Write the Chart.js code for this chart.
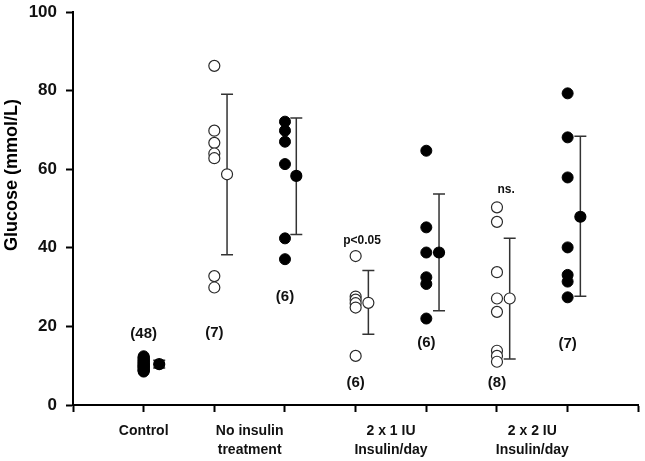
<!DOCTYPE html>
<html>
<head>
<meta charset="utf-8">
<script src="https://cdn.jsdelivr.net/npm/chart.js@4"></script>
<style>
  body { margin: 0; background: #fff; }
  #wrap { width: 645px; height: 461px; }
</style>
</head>
<body>
<div id="wrap"><canvas id="chart1"></canvas></div>
<script>
// group labels on the x axis and where they sit
const categories = ['Control', ['No insulin', 'treatment'], ['2 x 1 IU', 'Insulin/day'], ['2 x 2 IU', 'Insulin/day']];
const categoryPos = [1, 2.5, 4.5, 6.5];
const yTicks = [0, 20, 40, 60, 80, 100];

// individual animals (glucose, mmol/L)
const controlVals = [12.4, 12.1, 11.8, 11.5, 11.2, 11.0, 10.8, 10.5, 10.3, 10.0, 9.8, 9.6,
  9.3, 9.1, 8.9, 8.7, 8.5, 10.2, 11.4, 9.5, 10.7, 12.0, 8.8, 9.9];
const noInsulinOpen = [86.3, 69.8, 66.7, 64.0, 62.8, 32.8, 29.9];
const noInsulinFilled = [72.1, 69.8, 67.0, 61.3, 42.4, 37.1];
const iu1Open = [37.9, 27.6, 26.8, 25.9, 24.8, 12.5];
const iu1Filled = [64.7, 45.2, 38.8, 32.5, 30.8, 22.0];
const iu2Open = [50.3, 46.6, 33.8, 27.1, 23.7, 13.8, 12.5, 11.0];
const iu2Filled = [79.3, 68.1, 57.9, 40.1, 33.1, 31.4, 27.4];

// means with SD
const meanX = [1.22, 2.18, 3.16, 4.18, 5.18, 6.18, 7.18];
const meanVals = [10.4, 58.7, 58.3, 26.0, 38.8, 27.1, 47.9];
const sdHi = [11.4, 79.1, 73.0, 34.2, 53.7, 42.4, 68.4];
const sdLo = [9.4, 38.2, 43.4, 18.0, 24.0, 11.7, 27.7];
const meanOpen = [false, true, false, true, false, true, false];

// n labels and significance labels
const nLabels = ['(48)', '(7)', '(6)', '(6)', '(6)', '(8)', '(7)'];
const nLabelX = [1, 2, 3, 4, 5, 6, 7];
const nLabelY = [18.2, 18.3, 27.6, 5.7, 15.7, 5.7, 15.5];
const sigLabels = ['p<0.05', 'ns.'];
const sigX = [4.09, 6.13];
const sigY = [41.7, 54.9];

const FONT = '"Liberation Sans", Arial, sans-serif';
const EDGE = '#2a2a2a';

function pts(x, vals) {
  return vals.map(v => ({ x: x, y: v }));
}
function openSet(x, vals) {
  return { data: pts(x, vals), pointRadius: 5.5, pointHoverRadius: 5.5,
    pointBackgroundColor: '#fff', pointBorderColor: EDGE, pointBorderWidth: 1.2 };
}
function filledSet(x, vals) {
  return { data: pts(x, vals), pointRadius: 5.5, pointHoverRadius: 5.5,
    pointBackgroundColor: '#000', pointBorderColor: '#000', pointBorderWidth: 1 };
}

const datasets = [
  filledSet(1, controlVals),
  openSet(2, noInsulinOpen),
  filledSet(3, noInsulinFilled),
  openSet(4, iu1Open),
  filledSet(5, iu1Filled),
  openSet(6, iu2Open),
  filledSet(7, iu2Filled),
  {
    data: meanX.map((x, i) => ({ x: x, y: meanVals[i] })),
    pointRadius: 5.5, pointHoverRadius: 5.5, pointBorderWidth: 1.2,
    pointBackgroundColor: meanOpen.map(o => o ? '#fff' : '#000'),
    pointBorderColor: meanOpen.map(o => o ? EDGE : '#000')
  }
];

// error bars go under the circles
const errorBars = {
  id: 'errorBars',
  beforeDatasetsDraw(chart) {
    const ctx = chart.ctx, xs = chart.scales.x, ys = chart.scales.y;
    ctx.save();
    ctx.strokeStyle = '#333';
    ctx.lineWidth = 1.5;
    for (let i = 0; i < meanX.length; i++) {
      const px = xs.getPixelForValue(meanX[i]);
      const top = ys.getPixelForValue(sdHi[i]);
      const bot = ys.getPixelForValue(sdLo[i]);
      const cap = 6;
      ctx.beginPath();
      ctx.moveTo(px, top); ctx.lineTo(px, bot);
      ctx.moveTo(px - cap, top); ctx.lineTo(px + cap, top);
      ctx.moveTo(px - cap, bot); ctx.lineTo(px + cap, bot);
      ctx.stroke();
    }
    ctx.restore();
  },
  afterDraw(chart) {
    const ctx = chart.ctx, xs = chart.scales.x, ys = chart.scales.y;
    ctx.save();
    ctx.fillStyle = '#111';
    ctx.textAlign = 'center';
    ctx.textBaseline = 'middle';
    ctx.font = 'bold 15px ' + FONT;
    nLabels.forEach((t, i) => {
      ctx.fillText(t, xs.getPixelForValue(nLabelX[i]), ys.getPixelForValue(nLabelY[i]));
    });
    ctx.font = 'bold 12px ' + FONT;
    sigLabels.forEach((t, i) => {
      ctx.fillText(t, xs.getPixelForValue(sigX[i]), ys.getPixelForValue(sigY[i]));
    });
    // y axis title
    ctx.font = 'bold 18px ' + FONT;
    ctx.translate(12, 175);
    ctx.rotate(-Math.PI / 2);
    ctx.fillStyle = '#000';
    ctx.fillText('Glucose (mmol/L)', 0, 0);
    ctx.restore();
  }
};

const config = {
  type: 'scatter',
  data: { datasets: datasets },
  options: {
    responsive: true,
    maintainAspectRatio: false,
    animation: false,
    devicePixelRatio: 1,
    layout: { padding: { top: 12, right: 5, left: 0, bottom: 0 } },
    plugins: { legend: { display: false }, tooltip: { enabled: false } },
    scales: {
      x: {
        type: 'linear',
        min: 0,
        max: 8,
        afterBuildTicks(scale) {
          scale.ticks = [0, 1, 2, 2.5, 3, 4, 4.5, 5, 6, 6.5, 7, 8].map(v => ({ value: v }));
        },
        afterFit(scale) {
          scale.height = 56;
          scale.paddingLeft = 0;
          scale.paddingRight = 0;
        },
        grid: {
          drawOnChartArea: false,
          drawTicks: true,
          tickLength: 7,
          tickWidth: 2,
          tickColor: (c) => (c.tick && Number.isInteger(c.tick.value)) ? '#000' : 'rgba(0,0,0,0)'
        },
        border: { color: '#000', width: 2 },
        ticks: {
          autoSkip: false,
          maxRotation: 0,
          padding: 10,
          color: '#111',
          font: { family: FONT, size: 14, weight: 'bold', lineHeight: 1.36 },
          callback: (v) => {
            const k = categoryPos.indexOf(v);
            return k >= 0 ? categories[k] : '';
          }
        }
      },
      y: {
        min: 0,
        max: 100,
        afterBuildTicks(scale) {
          scale.ticks = yTicks.map(v => ({ value: v }));
        },
        afterFit(scale) {
          scale.width = 73;
          scale.paddingTop = 0;
          scale.paddingBottom = 0;
        },
        grid: { drawOnChartArea: false, drawTicks: true, tickLength: 7, tickWidth: 2, tickColor: '#000' },
        border: { color: '#000', width: 2 },
        ticks: {
          padding: 9,
          color: '#111',
          font: { family: FONT, size: 17, weight: 'bold' }
        }
      }
    }
  },
  plugins: [errorBars]
};

const myChart = new Chart(document.getElementById('chart1'), config);
</script>
</body>
</html>
